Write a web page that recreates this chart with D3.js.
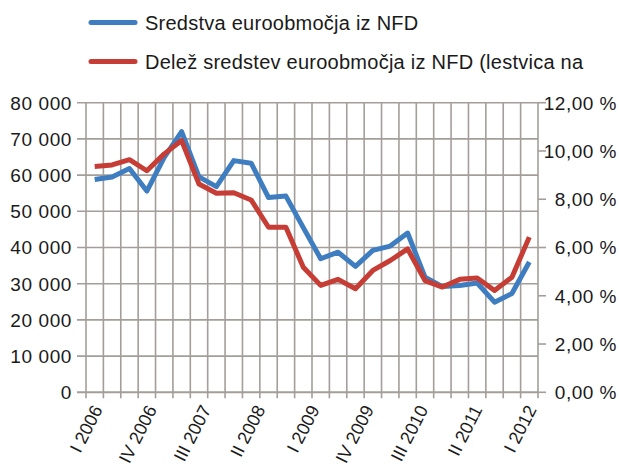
<!DOCTYPE html>
<html>
<head>
<meta charset="utf-8">
<script src="https://cdn.jsdelivr.net/npm/d3@7"></script>
<style>
  body { margin: 0; background: #fff; }
  text { font-family: "Liberation Sans", Arial, sans-serif; fill: #1a1a1a; }
</style>
</head>
<body>
<div id="chart"></div>
<script>
// quarters on the x axis (last one has no label)
const quarters = [
    "I 2006", "II 2006", "III 2006", "IV 2006",
    "I 2007", "II 2007", "III 2007", "IV 2007",
    "I 2008", "II 2008", "III 2008", "IV 2008",
    "I 2009", "II 2009", "III 2009", "IV 2009",
    "I 2010", "II 2010", "III 2010", "IV 2010",
    "I 2011", "II 2011", "III 2011", "IV 2011",
    "I 2012", "II 2012"
];
const tickLabels = ["I 2006", "IV 2006", "III 2007", "II 2008", "I 2009", "IV 2009", "III 2010", "II 2011", "I 2012"];

// euro area assets of investment funds (left axis)
const assets = [58800, 59500, 61800, 55600, 64900, 72000, 59500, 56800, 64000, 63300,
    53800, 54200, 45500, 36900, 38700, 34800, 39200, 40400, 44000, 31800,
    29200, 29500, 30200, 24900, 27300, 36000];
// share of euro area assets, % (right axis)
const share = [9.36, 9.42, 9.64, 9.18, 9.88, 10.43, 8.63, 8.25, 8.27, 7.97,
    6.84, 6.84, 5.18, 4.43, 4.68, 4.29, 5.05, 5.46, 5.94, 4.63,
    4.36, 4.68, 4.74, 4.22, 4.77, 6.43];

const leftTicks = [0, 10000, 20000, 30000, 40000, 50000, 60000, 70000, 80000];
const rightTicks = [0, 2, 4, 6, 8, 10, 12];

const legendNames = ["Sredstva euroobmočja iz NFD", "Delež sredstev euroobmočja iz NFD (lestvica na"];
const blue = "#3f7dc1", red = "#c63d36", grid = "#a39e99";

const width = 619, height = 466;
const plot = {left: 86, right: 538, top: 102.7, bottom: 392.3};

const svg = d3.select("#chart")
    .append("svg")
    .attr("width", width)
    .attr("height", height);

const loc = d3.formatLocale({decimal: ",", thousands: " ", grouping: [3], currency: ["", ""]});

const xScale = d3.scaleBand()
    .domain(quarters)
    .range([plot.left, plot.right]);
// labels were laid out on a slightly different spacing
const labelScale = d3.scaleBand()
    .domain(quarters.slice(0, 25))
    .range([plot.left, plot.right]);

const yLeft = d3.scaleLinear().domain([0, 80000]).range([plot.bottom, plot.top]);
const yRight = d3.scaleLinear().domain([0, 12]).range([plot.bottom, plot.top]);

// vertical gridlines at category boundaries, running down past the axis as ticks
const bounds = quarters.map(q => xScale(q)).concat([plot.right]);
svg.append("g")
    .selectAll("line")
    .data(bounds)
    .enter()
    .append("line")
    .attr("x1", d => d).attr("x2", d => d)
    .attr("y1", plot.top).attr("y2", plot.bottom + 6)
    .attr("stroke", grid)
    .attr("stroke-width", 1.6);

// horizontal gridlines + left axis ticks
svg.append("g")
    .selectAll("line")
    .data(leftTicks)
    .enter()
    .append("line")
    .attr("x1", plot.left - 9).attr("x2", plot.right)
    .attr("y1", d => yLeft(d)).attr("y2", d => yLeft(d))
    .attr("stroke", grid)
    .attr("stroke-width", d => d === 0 ? 2 : 1.6);

// right axis ticks
svg.append("g")
    .selectAll("line")
    .data(rightTicks)
    .enter()
    .append("line")
    .attr("x1", plot.right).attr("x2", plot.right + 8)
    .attr("y1", d => yRight(d)).attr("y2", d => yRight(d))
    .attr("stroke", grid)
    .attr("stroke-width", 1.6);

// left labels
svg.append("g")
    .selectAll("text")
    .data(leftTicks)
    .enter()
    .append("text")
    .attr("x", 72)
    .attr("y", d => yLeft(d))
    .attr("dy", "0.36em")
    .style("text-anchor", "end")
    .style("font-size", "19px")
    .style("letter-spacing", "0.6px")
    .text(d => loc.format(",")(d));

// right labels
svg.append("g")
    .selectAll("text")
    .data(rightTicks)
    .enter()
    .append("text")
    .attr("x", 617)
    .attr("y", d => yRight(d))
    .attr("dy", "0.36em")
    .style("text-anchor", "end")
    .style("font-size", "19px")
    .style("letter-spacing", "0.5px")
    .text(d => loc.format(".2f")(d) + " %");

// x labels, rotated
svg.append("g")
    .selectAll("text")
    .data(tickLabels)
    .enter()
    .append("text")
    .attr("transform", d => `translate(${labelScale(d) + labelScale.bandwidth() - 1},${plot.bottom + 17}) rotate(-63)`)
    .style("text-anchor", "end")
    .style("font-size", "18px")
    .text(d => d);

// lines
const cx = d => xScale(d) + xScale.bandwidth() / 2;

svg.append("path")
    .datum(assets)
    .attr("fill", "none")
    .attr("stroke", blue)
    .attr("stroke-width", 5)
    .attr("stroke-linejoin", "round")
    .attr("d", d3.line()
        .x((d, i) => cx(quarters[i]))
        .y(d => yLeft(d))
    );

svg.append("path")
    .datum(share)
    .attr("fill", "none")
    .attr("stroke", red)
    .attr("stroke-width", 5)
    .attr("stroke-linejoin", "round")
    .attr("d", d3.line()
        .x((d, i) => cx(quarters[i]))
        .y(d => yRight(d))
    );

// Legend
const legend = svg.append("g").attr("id", "legend");
const legendColors = [blue, red];
const legendY = [22.5, 61.5];

legend.selectAll("line")
    .data(legendNames)
    .enter()
    .append("line")
    .attr("x1", 91).attr("x2", 135)
    .attr("y1", (d, i) => legendY[i]).attr("y2", (d, i) => legendY[i])
    .attr("stroke", (d, i) => legendColors[i])
    .attr("stroke-width", 5)
    .attr("stroke-linecap", "round");

legend.selectAll("text")
    .data(legendNames)
    .enter()
    .append("text")
    .attr("x", 145)
    .attr("y", (d, i) => legendY[i])
    .attr("dy", "0.36em")
    .style("font-size", "20px")
    .style("letter-spacing", "0.25px")
    .text(d => d);
</script>
</body>
</html>
